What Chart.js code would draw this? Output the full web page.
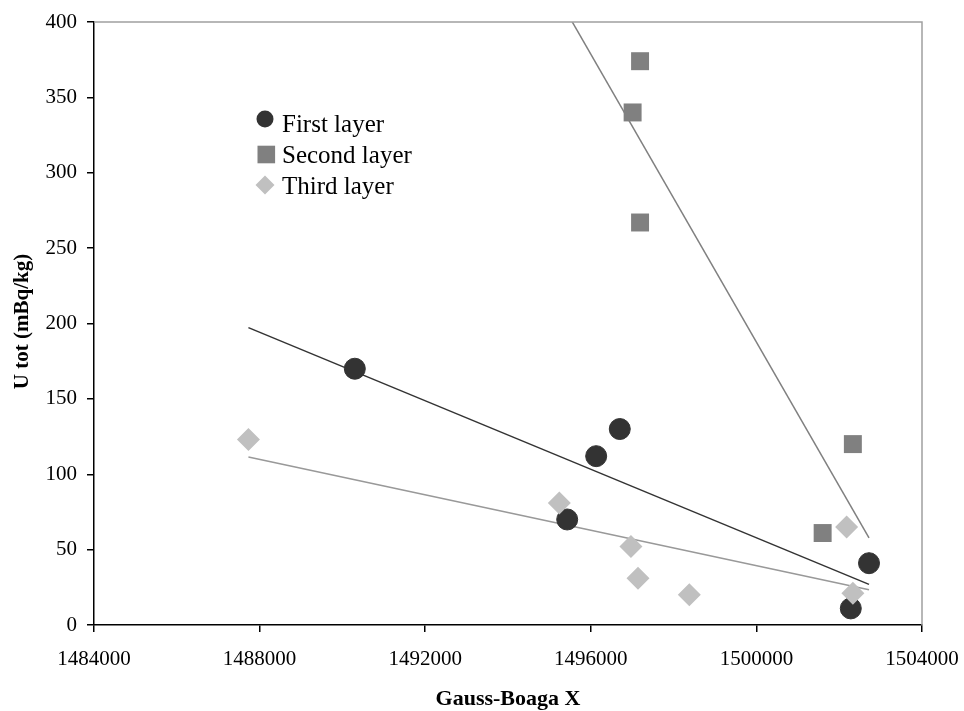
<!DOCTYPE html>
<html>
<head>
<meta charset="utf-8">
<script src="https://cdn.jsdelivr.net/npm/chart.js@4/dist/chart.umd.min.js"></script>
<style>
  html, body { margin: 0; padding: 0; background: #ffffff; }
  #wrap { width: 964px; height: 711px; position: relative; }
</style>
</head>
<body>
<div id="wrap"><canvas id="c" width="964" height="711"></canvas></div>
<script>
// ---- Data ----
const seriesNames = ["First layer", "Second layer", "Third layer"];
const firstX  = [1490300, 1495430, 1496130, 1496700, 1502280, 1502720];
const firstY  = [170, 70, 112, 130, 11, 41];
const secondX = [1497010, 1497190, 1497190, 1501600, 1502330];
const secondY = [340, 374, 267, 61, 120];
const thirdX  = [1487730, 1495240, 1496970, 1497140, 1498380, 1502180, 1502330];
const thirdY  = [123, 81, 52, 31, 20, 65, 21];
const xTicks = [1484000, 1488000, 1492000, 1496000, 1500000, 1504000];
const yTicks = [0, 50, 100, 150, 200, 250, 300, 350, 400];
const xTitle = "Gauss-Boaga X";
const yTitle = "U tot (mBq/kg)";

const colors = ["#333333", "#808080", "#c0c0c0"];
const lineColors = ["#333333", "#808080", "#999999"];
const FONT = "'Liberation Serif', 'Times New Roman', serif";

function pts(xs, ys) { return xs.map((x, i) => ({ x: x, y: ys[i] })); }

// Least-squares linear trendline (Excel style), drawn across the full data x-range
const allX = firstX.concat(secondX, thirdX);
const xLo = Math.min.apply(null, allX), xHi = Math.max.apply(null, allX);
function trend(xs, ys) {
  const n = xs.length;
  const mx = xs.reduce((a, b) => a + b, 0) / n;
  const my = ys.reduce((a, b) => a + b, 0) / n;
  let sxy = 0, sxx = 0;
  for (let i = 0; i < n; i++) { sxy += (xs[i] - mx) * (ys[i] - my); sxx += (xs[i] - mx) * (xs[i] - mx); }
  const b = sxy / sxx, a = my - b * mx;
  return [{ x: xLo, y: a + b * xLo }, { x: xHi, y: a + b * xHi }];
}

const trendDs = (xs, ys, i) => ({
  type: 'line',
  label: 'trend' + i,
  data: trend(xs, ys),
  borderColor: lineColors[i],
  borderWidth: 1.5,
  pointRadius: 0,
  fill: false,
  order: 10
});

const overlay = {
  id: 'overlay',
  afterDraw(chart) {
    const ctx = chart.ctx;
    const a = chart.chartArea;
    ctx.save();
    // plot-area border (top & right, grey)
    ctx.strokeStyle = '#a0a0a0';
    ctx.lineWidth = 1.5;
    ctx.beginPath();
    ctx.moveTo(a.left, a.top);
    ctx.lineTo(a.right, a.top);
    ctx.lineTo(a.right, a.bottom);
    ctx.stroke();

    // axis titles
    ctx.fillStyle = '#000';
    ctx.font = "bold 22px " + FONT;
    ctx.textAlign = 'center';
    ctx.textBaseline = 'alphabetic';
    ctx.fillText(xTitle, (a.left + a.right) / 2, 705);
    ctx.save();
    ctx.translate(27.5, (a.top + a.bottom) / 2 - 2);
    ctx.rotate(-Math.PI / 2);
    ctx.font = "bold 21px " + FONT;
    ctx.fillText(yTitle, 0, 0);
    ctx.restore();

    // legend
    const lx = 265, rows = [119, 154.5, 185];
    const base = [132, 163, 194];
    ctx.fillStyle = colors[0];
    ctx.beginPath(); ctx.arc(lx, rows[0], 8.5, 0, Math.PI * 2); ctx.fill();
    ctx.fillStyle = colors[1];
    ctx.fillRect(lx + 1.3 - 8.8, rows[1] - 8.8, 17.6, 17.6);
    ctx.fillStyle = colors[2];
    ctx.beginPath();
    ctx.moveTo(lx, rows[2] - 9.5); ctx.lineTo(lx + 9.5, rows[2]);
    ctx.lineTo(lx, rows[2] + 9.5); ctx.lineTo(lx - 9.5, rows[2]); ctx.closePath(); ctx.fill();
    ctx.fillStyle = '#000';
    ctx.font = "25px " + FONT;
    ctx.textAlign = 'left';
    for (let i = 0; i < 3; i++) ctx.fillText(seriesNames[i], 282, base[i]);
    ctx.restore();
  }
};

new Chart(document.getElementById('c'), {
  type: 'scatter',
  data: {
    datasets: [
      { label: seriesNames[0], data: pts(firstX, firstY), pointStyle: 'circle', pointRadius: 10.5,
        backgroundColor: colors[0], borderColor: colors[0], borderWidth: 1, order: 3 },
      { label: seriesNames[1], data: pts(secondX, secondY), pointStyle: 'rect', pointRadius: 12.7,
        backgroundColor: colors[1], borderColor: colors[1], borderWidth: 0, order: 2 },
      { label: seriesNames[2], data: pts(thirdX, thirdY), pointStyle: 'rectRot', pointRadius: 11.5,
        backgroundColor: colors[2], borderColor: colors[2], borderWidth: 0, order: 1 },
      trendDs(firstX, firstY, 0),
      trendDs(secondX, secondY, 1),
      trendDs(thirdX, thirdY, 2)
    ]
  },
  options: {
    responsive: false,
    animation: false,
    events: [],
    layout: { padding: { left: 0, right: 42, top: 22, bottom: 0 } },
    plugins: { legend: { display: false }, tooltip: { enabled: false } },
    scales: {
      x: {
        type: 'linear', min: xTicks[0], max: xTicks[xTicks.length - 1],
        afterFit(s) { s.height = 86; s.paddingRight = 0; s.paddingLeft = 0; },
        afterBuildTicks(s) { s.ticks = xTicks.map(v => ({ value: v })); },
        grid: { drawOnChartArea: false, drawTicks: true, tickLength: 7, color: '#000', lineWidth: 1.5 },
        border: { display: true, color: '#000', width: 1.5 },
        ticks: { color: '#000', font: { family: FONT, size: 21 }, padding: 15, maxRotation: 0,
                 callback: v => String(v) }
      },
      y: {
        type: 'linear', min: yTicks[0], max: yTicks[yTicks.length - 1],
        afterFit(s) { s.width = 94; s.paddingTop = 0; s.paddingBottom = 0; },
        afterBuildTicks(s) { s.ticks = yTicks.map(v => ({ value: v })); },
        grid: { drawOnChartArea: false, drawTicks: true, tickLength: 7, color: '#000', lineWidth: 1.5 },
        border: { display: true, color: '#000', width: 1.5 },
        ticks: { color: '#000', font: { family: FONT, size: 21 }, padding: 10,
                 callback: v => String(v) }
      }
    }
  },
  plugins: [overlay]
});
</script>
</body>
</html>
